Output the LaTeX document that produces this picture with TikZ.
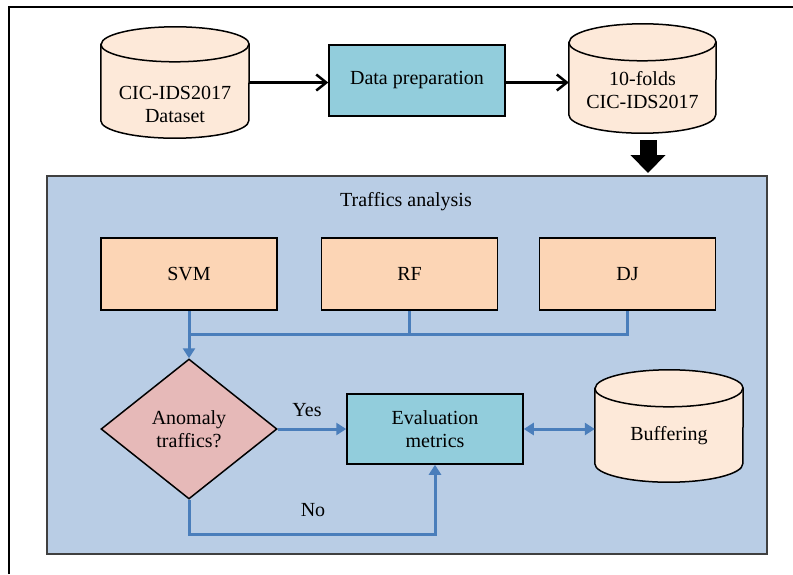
\documentclass[tikz,border=0pt]{standalone}
\usepackage{fontspec}
\setmainfont{Liberation Serif}
\usetikzlibrary{arrows.meta,positioning,shapes.geometric}
\definecolor{dbfill}{HTML}{FDE9D9}
\definecolor{prepfill}{HTML}{92CDDC}
\definecolor{panelfill}{HTML}{B9CDE5}
\definecolor{algfill}{HTML}{FCD5B5}
\definecolor{decfill}{HTML}{E6B9B8}
\definecolor{flowblue}{HTML}{4A7EBB}
% database drum round a named node: #1 node, #2 x radius, #3 y radius
\newcommand{\dbdraw}[3]{%
  \draw[line width=1.5pt, fill=dbfill] ([yshift=-#3pt]#1.north west) -- ([yshift=#3pt]#1.south west)
    arc[start angle=180, end angle=360, x radius=#2pt, y radius=#3pt]
    -- ([yshift=-#3pt]#1.north east)
    arc[start angle=0, end angle=180, x radius=#2pt, y radius=#3pt] -- cycle;
  \draw[line width=1.5pt] ([yshift=-#3pt]#1.north west)
    arc[start angle=180, end angle=360, x radius=#2pt, y radius=#3pt];}

\begin{document}
\begin{tikzpicture}[x=1pt, y=-1pt,
  every node/.style={font=\fontsize{20}{23}\selectfont},
  box/.style={draw, line width=1.5pt, minimum width=176pt, minimum height=71pt, align=center, inner sep=0pt},
  db/.style={minimum width=148pt, minimum height=111pt, inner sep=0pt},
  txt/.style={align=center, inner sep=0pt},
  arrow/.style={-{Straight Barb[length=10pt, width=16pt]}, line width=2.5pt},
  flow/.style={-{Triangle[length=10pt, width=12pt]}, line width=3pt, flowblue},
  link/.style={line width=3pt, flowblue}
]
\useasboundingbox (0,0) rectangle (793,574);
\draw[line width=2pt] (9,574) -- (9,6.5) -- (793,6.5);

% top row
\node[db] (raw) at (175,82.5) {};
\dbdraw{raw}{74}{17.5}
\node[txt] (rawtxt) at (175,104) {CIC-IDS2017\\Dataset};
\node[box, fill=prepfill] (prep) at (417,80.5) {Data preparation};
\node[db, minimum width=147pt, minimum height=109pt] (fold) at (642.5,78.5) {};
\dbdraw{fold}{73.5}{18.5}
\node[txt] (foldtxt) at (642.5,90) {10-folds\\CIC-IDS2017};
\draw[arrow] (raw.east) -- (raw.east -| prep.west);
\draw[arrow] (prep.east |- raw.east) -- (raw.east -| fold.west);

% analysis panel
\node[draw=black!75, line width=1.5pt, fill=panelfill, minimum width=720pt, minimum height=378pt, inner sep=0pt] (panel) at (407,365) {};
\coordinate (bigtop) at (648,140);
\coordinate (bigtip) at (648,173);
\draw[line width=17pt, -{Triangle[length=18pt, width=34pt]}] (bigtop) -- (bigtip);
\node[txt] (title) at (406,202) {Traffics analysis};

\node[box, fill=algfill, minimum height=72pt] (svm) at (189,274) {SVM};
\node[box, fill=algfill, minimum height=72pt] (rf) at (409.5,274) {RF};
\node[box, fill=algfill, minimum height=72pt] (dj) at (627.5,274) {DJ};
\coordinate (bus) at (189,334);
\draw[link] (dj.south) |- (bus);
\draw[link] (rf.south) -- (rf.south |- bus);

\node[draw, line width=1.5pt, diamond, aspect=1.25, fill=decfill, minimum width=176pt, minimum height=140pt, inner sep=0pt, align=center] (dec) at (189,429) {Anomaly\\traffics?};
\draw[flow] (svm.south) -- (dec.north);

\node[box, fill=prepfill, minimum height=70pt] (eval) at (435,429) {Evaluation\\metrics};
\node[db, minimum height=112pt] (buf) at (669,426) {};
\dbdraw{buf}{74}{18.5}
\node[txt] (buftxt) at (669,436) {Buffering};

\draw[flow] (dec.east) -- (eval.west);
\node[txt] (yes) at (307,410) {Yes};
\draw[flow] (dec.south) -- ++(0,35) -| (eval.south);
\node[txt] (no) at (313,510) {No};
\draw[flow, {Triangle[length=10pt, width=12pt]}-{Triangle[length=10pt, width=12pt]}] (eval.east) -- (eval.east -| buf.west);
\end{tikzpicture}
\end{document}
